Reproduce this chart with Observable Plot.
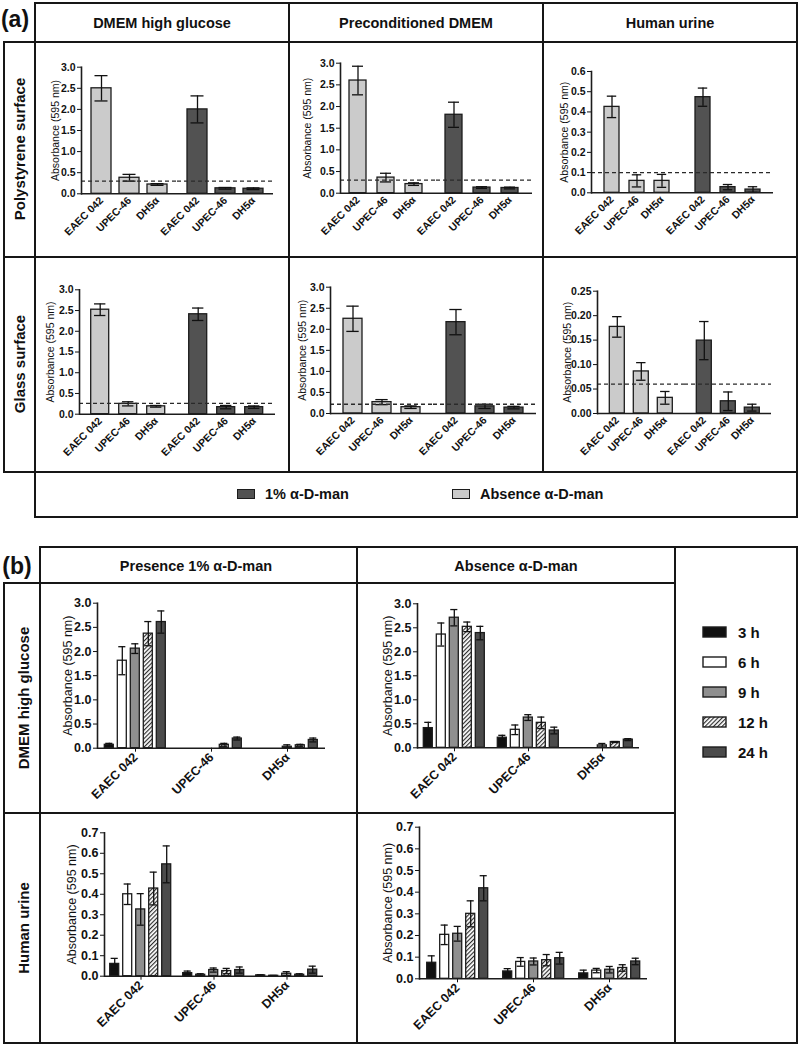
<!DOCTYPE html>
<html><head><meta charset="utf-8">
<script src="https://cdn.jsdelivr.net/npm/d3@7"></script>
<script src="https://cdn.jsdelivr.net/npm/@observablehq/plot@0.6"></script>
<style>
html,body{margin:0;padding:0;background:#fff;}
#fig{position:relative;width:800px;height:1047px;font-family:"Liberation Sans",Arial,sans-serif;color:#111;overflow:hidden;}
.ln{position:absolute;background:#161616;}
.tx{position:absolute;white-space:nowrap;font-weight:bold;line-height:1;}
.pn{position:absolute;}
.pa g[aria-label="y-axis label"] text{font-weight:normal;font-size:10.5px;}
.pb g[aria-label="y-axis label"] text{font-weight:normal;font-size:12.5px;}
</style></head><body>
<svg width="0" height="0" style="position:absolute"><defs>
<pattern id="hatch" patternUnits="userSpaceOnUse" width="3" height="3" patternTransform="rotate(45)">
<rect width="3" height="3" fill="#ffffff"></rect><line x1="0.6" y1="0" x2="0.6" y2="3" stroke="#222" stroke-width="1.1"></line>
</pattern></defs></svg>
<div id="fig"></div>
<script>
// ---------- DATA : panel (a) ----------
const strainsA = ["EAEC 042", "UPEC-46", "DH5α"];
const conditionsA = ["Absence α-D-man", "1% α-D-man"];
const colorsA = ["#cbcbcb", "#525252"];
const mediaA = ["DMEM high glucose", "Preconditioned DMEM", "Human urine"];
const surfacesA = ["Polystyrene surface", "Glass surface"];
const legendLabelsA = ["1% α-D-man", "Absence α-D-man"];
const legendColorsA = ["#525252", "#cbcbcb"];
// order: absence EAEC, UPEC, DH5α, presence EAEC, UPEC, DH5α
const polyDmemMean = [2.50, 0.38, 0.22, 2.00, 0.13, 0.12];
const polyDmemSd   = [0.30, 0.08, 0.02, 0.32, 0.02, 0.02];
const polyPreMean  = [2.60, 0.36, 0.21, 1.81, 0.13, 0.12];
const polyPreSd    = [0.33, 0.10, 0.03, 0.29, 0.02, 0.02];
const polyUrineMean = [0.425, 0.059, 0.059, 0.473, 0.028, 0.016];
const polyUrineSd   = [0.053, 0.030, 0.032, 0.045, 0.013, 0.014];
const glassDmemMean = [2.52, 0.25, 0.19, 2.41, 0.17, 0.17];
const glassDmemSd   = [0.14, 0.05, 0.02, 0.15, 0.04, 0.03];
const glassPreMean  = [2.25, 0.27, 0.15, 2.17, 0.17, 0.14];
const glassPreSd    = [0.30, 0.06, 0.03, 0.30, 0.05, 0.03];
const glassUrineMean = [0.177, 0.086, 0.032, 0.149, 0.025, 0.012];
const glassUrineSd   = [0.021, 0.018, 0.013, 0.039, 0.019, 0.007];
const cutoffsA = [0.30, 0.30, 0.10, 0.26, 0.22, 0.06];

// ---------- DATA : panel (b) ----------
const strainsB = ["EAEC 042", "UPEC-46", "DH5α"];
const timesB = ["3 h", "6 h", "9 h", "12 h", "24 h"];
const fillsB = ["#111111", "#ffffff", "#8f8f8f", "url(#hatch)", "#4b4b4b"];
const conditionsB = ["Presence 1% α-D-man", "Absence α-D-man"];
const mediaB = ["DMEM high glucose", "Human urine"];
// order: EAEC 3,6,9,12,24 h | UPEC ... | DH5α ...
const dmemPresMean = [0.07, 1.81, 2.06, 2.37, 2.61,  null, null, null, 0.07, 0.20,  null, null, 0.03, 0.06, 0.17];
const dmemPresSd   = [0.03, 0.29, 0.10, 0.25, 0.23,  null, null, null, 0.03, 0.03,  null, null, 0.04, 0.02, 0.04];
const dmemAbsMean  = [0.41, 2.36, 2.71, 2.52, 2.39,  0.21, 0.375, 0.63, 0.52, 0.36,  null, null, 0.05, 0.12, 0.17];
const dmemAbsSd    = [0.12, 0.24, 0.17, 0.10, 0.14,  0.05, 0.10, 0.06, 0.12, 0.07,  null, null, 0.04, 0.01, 0.02];
const urinePresMean = [0.060, 0.400, 0.326, 0.428, 0.546,  0.015, 0.007, 0.030, 0.025, 0.030,  0.004, 0.002, 0.012, 0.007, 0.032];
const urinePresSd   = [0.027, 0.050, 0.077, 0.080, 0.090,  0.010, 0.005, 0.010, 0.013, 0.015,  0.003, 0.002, 0.010, 0.005, 0.017];
const urineAbsMean  = [0.074, 0.203, 0.208, 0.300, 0.418,  0.034, 0.078, 0.080, 0.086, 0.095,  0.025, 0.038, 0.042, 0.050, 0.080];
const urineAbsSd    = [0.032, 0.045, 0.034, 0.060, 0.058,  0.013, 0.020, 0.016, 0.026, 0.027,  0.015, 0.010, 0.015, 0.015, 0.015];

// ---------- helpers ----------
const fig = document.getElementById("fig");
function line(x0, y0, x1, y1, t = 2) {
  const d = document.createElement("div");
  d.className = "ln";
  if (y0 === y1) d.style.cssText = `left:${x0 - t/2}px;top:${y0 - t/2}px;width:${x1 - x0 + t}px;height:${t}px`;
  else d.style.cssText = `left:${x0 - t/2}px;top:${y0 - t/2}px;width:${t}px;height:${y1 - y0 + t}px`;
  fig.appendChild(d);
}
function text(s, cx, cy, size, rot = 0, anchor = "middle") {
  const d = document.createElement("div");
  d.className = "tx";
  d.textContent = s;
  const tx = anchor === "middle" ? "-50%" : "0";
  d.style.cssText = `left:${cx}px;top:${cy}px;font-size:${size}px;transform:translate(${tx},-50%) rotate(${rot}deg);`;
  fig.appendChild(d);
}
function rowsA(mean, sd) {
  return mean.map((m, i) => ({g: conditionsA[Math.floor(i / 3)], c: strainsA[i % 3], mean: m, sd: sd[i]}));
}
function rowsB(mean, sd) {
  const out = [];
  mean.forEach((m, i) => { if (m != null) out.push({g: strainsB[Math.floor(i / 5)], c: timesB[i % 5], mean: m, sd: sd[i]}); });
  return out;
}

function drawPanel(p) {
  const left = p.col[0] + 2, top = p.row[0] + 2;
  const width = p.col[1] - p.col[0] - 3, height = p.row[1] - p.row[0] - 3;
  const mL = p.ax0 - left, mR = left + width - p.ax1, mT = p.yTop - top, mB = top + height - p.yZero;
  const n = p.cats.length, F = (p.ax1 - p.ax0) / p.groups.length;
  const pi = 1 - p.B / p.S;
  const po = Math.max(0, (F / p.S - n + pi) / 2);
  const k = Math.round(p.ymax / p.ystep);
  const ticks = d3.range(0, k + 1).map(i => +(i * p.ystep).toFixed(4));
  const capIn = p.B * (1 - p.cap) / 2;
  const isA = p.kind === "a";
  const ebStyle = {stroke: "#111", strokeWidth: 1.3};
  const marks = [
    Plot.barY(p.data, {fx: "g", x: "c", y: "mean", fill: isA ? "g" : "c", stroke: "#1c1c1c", strokeWidth: 1.3}),
    Plot.ruleX(p.data, {fx: "g", x: "c", y1: d => Math.max(0, d.mean - d.sd), y2: d => d.mean + d.sd, ...ebStyle}),
    Plot.tickY(p.data, {fx: "g", x: "c", y: d => d.mean + d.sd, insetLeft: capIn, insetRight: capIn, ...ebStyle}),
    Plot.tickY(p.data, {fx: "g", x: "c", y: d => Math.max(0, d.mean - d.sd), insetLeft: capIn, insetRight: capIn, ...ebStyle}),
  ];
  if (p.cutoff != null) marks.push(Plot.ruleY([p.cutoff], {stroke: "#2a2a2a", strokeWidth: 1.3, strokeDasharray: "4,3"}));
  marks.push(Plot.ruleY([0], {stroke: "#1c1c1c", strokeWidth: 1.6}));
  marks.push(Plot.frame({anchor: "left", facetAnchor: "left", stroke: "#1c1c1c", strokeWidth: 1.6}));
  const svg = Plot.plot({
    width, height, marginLeft: mL, marginRight: mR, marginTop: mT, marginBottom: mB,
    style: {fontFamily: "'Liberation Sans', Arial, sans-serif", fontSize: p.tickFont + "px", fontWeight: "bold", color: "#111", background: "none", overflow: "visible"},
    fx: {domain: p.groups, padding: 0, label: null, axis: isA ? null : "bottom", tickRotate: -45, tickSize: 4, tickPadding: 3},
    x: {domain: p.cats, paddingInner: pi, paddingOuter: po, align: p.align ?? 0.5, axis: isA ? "bottom" : null, tickRotate: -45, tickSize: 0, tickPadding: 5, label: null},
    y: {domain: [0, p.ymax], ticks, tickFormat: d3.format(p.fmt), tickSize: 4, tickPadding: 2, label: "Absorbance (595 nm)", labelAnchor: "center", labelOffset: p.ax0 - p.labelX, labelArrow: "none"},
    color: isA ? {domain: conditionsA, range: colorsA} : {domain: timesB, range: fillsB},
    marks
  });
  const wrap = document.createElement("div");
  wrap.className = "pn " + (isA ? "pa" : "pb");
  wrap.style.left = left + "px";
  wrap.style.top = top + "px";
  wrap.appendChild(svg);
  fig.appendChild(wrap);
}

// ---------- layout (page coordinates) ----------
const colA = [35, 289, 543, 797], rowA = [42, 257, 472];
const baseA = {kind: "a", groups: conditionsA, cats: strainsA, tickFont: 10.5, cap: 0.65};
const panelsA = [
  {col: [colA[0], colA[1]], row: [rowA[0], rowA[1]], ax0: 80, ax1: 273, yTop: 66.7, yZero: 193.3, ymax: 3, ystep: 0.5, fmt: ".1f", S: 28.5, B: 20, labelX: 50, data: rowsA(polyDmemMean, polyDmemSd), cutoff: cutoffsA[0]},
  {col: [colA[1], colA[2]], row: [rowA[0], rowA[1]], ax0: 340, ax1: 532, yTop: 62.7, yZero: 192.7, ymax: 3, ystep: 0.5, fmt: ".1f", S: 28, B: 17, align: 0.4, labelX: 303, data: rowsA(polyPreMean, polyPreSd), cutoff: cutoffsA[1]},
  {col: [colA[2], colA[3]], row: [rowA[0], rowA[1]], ax0: 590, ax1: 773, yTop: 71, yZero: 192.3, ymax: 0.6, ystep: 0.1, fmt: ".1f", S: 26, B: 16, labelX: 559, data: rowsA(polyUrineMean, polyUrineSd), cutoff: cutoffsA[2]},
  {col: [colA[0], colA[1]], row: [rowA[1], rowA[2]], ax0: 78.3, ax1: 275, yTop: 289.3, yZero: 413.7, ymax: 3, ystep: 0.5, fmt: ".1f", S: 29, B: 19, labelX: 45, data: rowsA(glassDmemMean, glassDmemSd), cutoff: cutoffsA[3]},
  {col: [colA[1], colA[2]], row: [rowA[1], rowA[2]], ax0: 330, ax1: 536.7, yTop: 286.7, yZero: 413, ymax: 3, ystep: 0.5, fmt: ".1f", S: 29.5, B: 19, labelX: 298, data: rowsA(glassPreMean, glassPreSd), cutoff: cutoffsA[4]},
  {col: [colA[2], colA[3]], row: [rowA[1], rowA[2]], ax0: 596.7, ax1: 771.7, yTop: 290.7, yZero: 413, ymax: 0.25, ystep: 0.05, fmt: ".2f", S: 25, B: 16, labelX: 563, data: rowsA(glassUrineMean, glassUrineSd), cutoff: cutoffsA[5]},
];
const colB = [40, 357, 675], rowB = [583, 813, 1043];
const baseB = {kind: "b", groups: strainsB, cats: timesB, tickFont: 12.5, cap: 0.8};
const panelsB = [
  {col: [colB[0], colB[1]], row: [rowB[0], rowB[1]], ax0: 96.7, ax1: 325, yTop: 602.7, yZero: 747.7, ymax: 3, ystep: 0.5, fmt: ".1f", S: 13.4, B: 9.5, labelX: 62, data: rowsB(dmemPresMean, dmemPresSd)},
  {col: [colB[1], colB[2]], row: [rowB[0], rowB[1]], ax0: 416.7, ax1: 640, yTop: 603.3, yZero: 747.3, ymax: 3, ystep: 0.5, fmt: ".1f", S: 13.3, B: 9.5, labelX: 382, data: rowsB(dmemAbsMean, dmemAbsSd)},
  {col: [colB[0], colB[1]], row: [rowB[1], rowB[2]], ax0: 103.3, ax1: 323.3, yTop: 832.3, yZero: 975.7, ymax: 0.7, ystep: 0.1, fmt: ".1f", S: 13.3, B: 9.5, labelX: 66, data: rowsB(urinePresMean, urinePresSd)},
  {col: [colB[1], colB[2]], row: [rowB[1], rowB[2]], ax0: 418.3, ax1: 646.7, yTop: 826.7, yZero: 978.3, ymax: 0.7, ystep: 0.1, fmt: ".1f", S: 13.3, B: 9.5, labelX: 382, data: rowsB(urineAbsMean, urineAbsSd)},
];
panelsA.forEach(p => drawPanel({...baseA, ...p}));
panelsB.forEach(p => drawPanel({...baseB, ...p}));

// ---------- frame lines (a) ----------
line(35, 3, 797, 3, 2.5);
line(4, 42, 797, 42);
line(4, 257, 797, 257);
line(4, 472, 797, 472);
line(35, 517, 797, 517, 2.5);
line(4, 42, 4, 472);
line(35, 3, 35, 517, 2.5);
line(289, 3, 289, 472);
line(543, 3, 543, 472);
line(797, 3, 797, 517, 2.5);
// ---------- frame lines (b) ----------
line(40, 547, 797, 547, 2.5);
line(4, 583, 675, 583);
line(4, 813, 675, 813);
line(4, 1043, 797, 1043, 2.5);
line(4, 583, 4, 1043);
line(40, 547, 40, 1043, 2.5);
line(357, 547, 357, 1043);
line(675, 547, 675, 1043);
line(797, 547, 797, 1043, 2.5);

// ---------- texts ----------
text("(a)", 15, 19, 23);
text("(b)", 17, 566, 23);
const hdrX = [162, 416, 670];
mediaA.forEach((m, i) => text(m, hdrX[i], 23, 14.5));
const rowYA = [149, 364];
surfacesA.forEach((s, i) => text(s, 19, rowYA[i], 15, -90));
const hdrXB = [196, 516];
conditionsB.forEach((c, i) => text(c, hdrXB[i], 566, 14.5));
const rowYB = [698, 928];
mediaB.forEach((m, i) => text(m, 23, rowYB[i], 15, -90));

// legend (a)
const legAX = [237, 452];
legendLabelsA.forEach((lab, i) => {
  const s = document.createElement("div");
  s.style.cssText = `position:absolute;left:${legAX[i]}px;top:489px;width:16px;height:8px;background:${legendColorsA[i]};border:1.3px solid #1c1c1c;`;
  fig.appendChild(s);
  text(lab, legAX[i] + 28, 494, 14.5, 0, "start");
});
// legend (b)
timesB.forEach((t, i) => {
  const cy = 632 + i * 30;
  const ns = "http://www.w3.org/2000/svg";
  const sv = document.createElementNS(ns, "svg");
  sv.setAttribute("width", 26); sv.setAttribute("height", 13);
  sv.style.cssText = `position:absolute;left:702px;top:${cy - 6.5}px;`;
  const r = document.createElementNS(ns, "rect");
  r.setAttribute("x", 1); r.setAttribute("y", 1); r.setAttribute("width", 23); r.setAttribute("height", 10);
  r.setAttribute("fill", fillsB[i]); r.setAttribute("stroke", "#1c1c1c"); r.setAttribute("stroke-width", 1.4);
  sv.appendChild(r);
  fig.appendChild(sv);
  text(t, 738, cy, 15, 0, "start");
});
</script></body></html>
